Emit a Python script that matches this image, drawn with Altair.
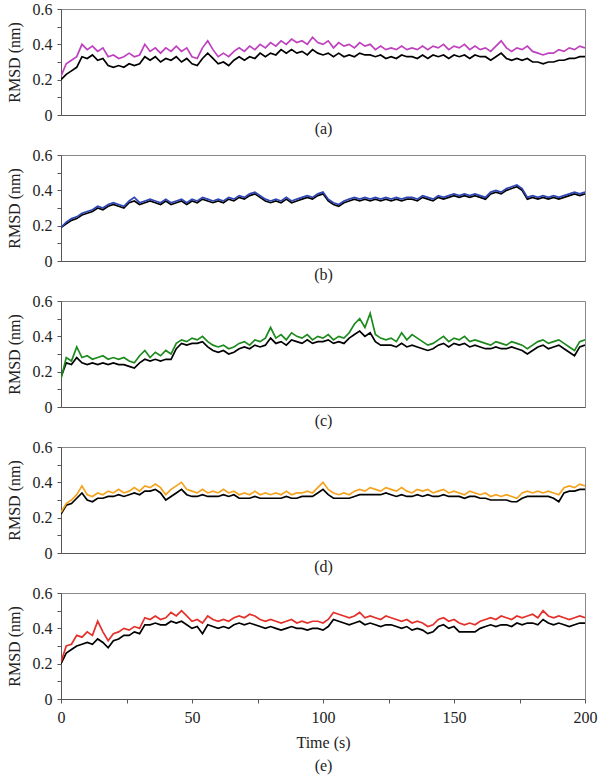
import altair as alt
import pandas as pd

# Sampling times (s), one value every 2 s
TIME = list(range(0, 201, 2))

# Panel (a)
A_REF = [0.20, 0.23, 0.25, 0.27, 0.33, 0.32, 0.34, 0.31, 0.32, 0.28,
         0.27, 0.28, 0.27, 0.29, 0.28, 0.29, 0.33, 0.31, 0.33, 0.30,
         0.32, 0.31, 0.33, 0.30, 0.32, 0.29, 0.28, 0.32, 0.35, 0.32,
         0.29, 0.30, 0.28, 0.31, 0.33, 0.31, 0.33, 0.32, 0.35, 0.33,
         0.35, 0.34, 0.37, 0.35, 0.37, 0.35, 0.36, 0.34, 0.37, 0.35,
         0.34, 0.35, 0.33, 0.35, 0.33, 0.34, 0.33, 0.35, 0.34, 0.34,
         0.33, 0.34, 0.32, 0.33, 0.32, 0.34, 0.33, 0.33, 0.32, 0.34,
         0.32, 0.34, 0.33, 0.34, 0.32, 0.34, 0.33, 0.34, 0.32, 0.34,
         0.33, 0.33, 0.31, 0.33, 0.35, 0.32, 0.31, 0.32, 0.31, 0.32,
         0.30, 0.30, 0.29, 0.30, 0.30, 0.31, 0.31, 0.32, 0.32, 0.33,
         0.33]
A_COL = [0.22, 0.29, 0.31, 0.33, 0.40, 0.37, 0.39, 0.36, 0.38, 0.33,
         0.34, 0.32, 0.33, 0.35, 0.33, 0.34, 0.40, 0.36, 0.38, 0.35,
         0.38, 0.36, 0.39, 0.36, 0.38, 0.33, 0.32, 0.38, 0.42, 0.37,
         0.33, 0.35, 0.33, 0.36, 0.38, 0.36, 0.39, 0.37, 0.40, 0.38,
         0.41, 0.39, 0.42, 0.40, 0.43, 0.41, 0.42, 0.40, 0.44, 0.41,
         0.40, 0.42, 0.38, 0.41, 0.39, 0.40, 0.38, 0.41, 0.39, 0.40,
         0.37, 0.39, 0.37, 0.38, 0.37, 0.39, 0.37, 0.38, 0.37, 0.39,
         0.37, 0.39, 0.38, 0.40, 0.37, 0.39, 0.38, 0.40, 0.37, 0.39,
         0.37, 0.38, 0.36, 0.39, 0.42, 0.38, 0.36, 0.38, 0.37, 0.39,
         0.36, 0.35, 0.34, 0.35, 0.35, 0.37, 0.36, 0.38, 0.37, 0.39,
         0.38]

# Panel (b)
B_REF = [0.19, 0.21, 0.23, 0.24, 0.26, 0.27, 0.28, 0.30, 0.29, 0.31,
         0.32, 0.31, 0.30, 0.33, 0.34, 0.32, 0.33, 0.34, 0.33, 0.32,
         0.34, 0.32, 0.33, 0.34, 0.32, 0.34, 0.33, 0.35, 0.34, 0.33,
         0.34, 0.33, 0.35, 0.34, 0.36, 0.35, 0.37, 0.38, 0.36, 0.34,
         0.33, 0.34, 0.33, 0.35, 0.33, 0.34, 0.35, 0.36, 0.35, 0.37,
         0.38, 0.34, 0.32, 0.31, 0.33, 0.34, 0.35, 0.34, 0.35, 0.34,
         0.35, 0.34, 0.35, 0.34, 0.35, 0.34, 0.35, 0.35, 0.34, 0.36,
         0.35, 0.34, 0.36, 0.35, 0.36, 0.37, 0.36, 0.37, 0.36, 0.37,
         0.36, 0.35, 0.38, 0.39, 0.38, 0.40, 0.41, 0.42, 0.40, 0.35,
         0.36, 0.35, 0.36, 0.35, 0.36, 0.35, 0.36, 0.37, 0.38, 0.37,
         0.38]
B_COL = [0.19, 0.22, 0.24, 0.25, 0.27, 0.28, 0.29, 0.31, 0.30, 0.32,
         0.33, 0.32, 0.31, 0.34, 0.36, 0.33, 0.34, 0.35, 0.34, 0.33,
         0.35, 0.33, 0.34, 0.35, 0.33, 0.35, 0.34, 0.36, 0.35, 0.34,
         0.35, 0.34, 0.36, 0.35, 0.37, 0.36, 0.38, 0.39, 0.37, 0.35,
         0.34, 0.35, 0.34, 0.36, 0.34, 0.35, 0.36, 0.37, 0.36, 0.38,
         0.39, 0.35, 0.33, 0.32, 0.34, 0.35, 0.36, 0.35, 0.36, 0.35,
         0.36, 0.35, 0.36, 0.35, 0.36, 0.35, 0.36, 0.36, 0.35, 0.37,
         0.36, 0.35, 0.37, 0.36, 0.37, 0.38, 0.37, 0.38, 0.37, 0.38,
         0.37, 0.36, 0.39, 0.40, 0.39, 0.41, 0.42, 0.43, 0.41, 0.36,
         0.37, 0.36, 0.37, 0.36, 0.37, 0.36, 0.37, 0.38, 0.39, 0.38,
         0.39]

# Panel (c)
C_REF = [0.17, 0.25, 0.24, 0.28, 0.25, 0.24, 0.25, 0.24, 0.25, 0.24,
         0.25, 0.24, 0.24, 0.23, 0.22, 0.25, 0.27, 0.26, 0.27, 0.26,
         0.27, 0.27, 0.33, 0.36, 0.35, 0.36, 0.36, 0.37, 0.34, 0.32,
         0.31, 0.32, 0.30, 0.31, 0.33, 0.34, 0.33, 0.35, 0.34, 0.35,
         0.39, 0.36, 0.37, 0.35, 0.38, 0.37, 0.36, 0.38, 0.36, 0.37,
         0.37, 0.38, 0.36, 0.37, 0.36, 0.39, 0.41, 0.43, 0.40, 0.42,
         0.37, 0.35, 0.35, 0.35, 0.34, 0.36, 0.34, 0.35, 0.34, 0.33,
         0.32, 0.33, 0.35, 0.36, 0.34, 0.36, 0.35, 0.36, 0.34, 0.35,
         0.34, 0.33, 0.33, 0.34, 0.33, 0.33, 0.34, 0.33, 0.32, 0.30,
         0.32, 0.34, 0.35, 0.33, 0.34, 0.35, 0.33, 0.31, 0.29, 0.34,
         0.35]
C_COL = [0.16, 0.28, 0.26, 0.34, 0.28, 0.29, 0.27, 0.28, 0.29, 0.27,
         0.28, 0.27, 0.28, 0.26, 0.25, 0.29, 0.32, 0.28, 0.31, 0.29,
         0.32, 0.30, 0.36, 0.38, 0.37, 0.39, 0.38, 0.40, 0.37, 0.35,
         0.34, 0.35, 0.33, 0.34, 0.36, 0.37, 0.35, 0.38, 0.37, 0.39,
         0.45, 0.39, 0.41, 0.38, 0.42, 0.40, 0.39, 0.41, 0.38, 0.40,
         0.39, 0.41, 0.38, 0.40, 0.39, 0.42, 0.47, 0.50, 0.45, 0.53,
         0.41, 0.39, 0.38, 0.39, 0.37, 0.42, 0.38, 0.41, 0.39, 0.37,
         0.35, 0.36, 0.38, 0.40, 0.37, 0.39, 0.38, 0.40, 0.37, 0.38,
         0.37, 0.36, 0.35, 0.37, 0.36, 0.35, 0.37, 0.36, 0.35, 0.33,
         0.35, 0.37, 0.38, 0.36, 0.37, 0.38, 0.36, 0.34, 0.32, 0.37,
         0.38]

# Panel (d)
D_REF = [0.22, 0.27, 0.28, 0.31, 0.34, 0.30, 0.29, 0.31, 0.31, 0.32,
         0.32, 0.33, 0.32, 0.33, 0.34, 0.33, 0.35, 0.35, 0.36, 0.34,
         0.30, 0.32, 0.34, 0.36, 0.33, 0.32, 0.32, 0.33, 0.32, 0.32,
         0.32, 0.33, 0.32, 0.33, 0.31, 0.31, 0.31, 0.32, 0.31, 0.31,
         0.31, 0.31, 0.31, 0.32, 0.31, 0.31, 0.32, 0.32, 0.32, 0.34,
         0.36, 0.33, 0.31, 0.31, 0.31, 0.31, 0.32, 0.33, 0.33, 0.33,
         0.33, 0.33, 0.34, 0.33, 0.32, 0.33, 0.32, 0.32, 0.33, 0.32,
         0.33, 0.32, 0.32, 0.33, 0.32, 0.32, 0.32, 0.31, 0.32, 0.32,
         0.31, 0.31, 0.30, 0.30, 0.30, 0.30, 0.29, 0.29, 0.31, 0.32,
         0.32, 0.32, 0.32, 0.32, 0.31, 0.29, 0.34, 0.35, 0.35, 0.36,
         0.36]
D_COL = [0.23, 0.28, 0.30, 0.33, 0.38, 0.33, 0.32, 0.34, 0.33, 0.35,
         0.34, 0.36, 0.34, 0.35, 0.37, 0.35, 0.38, 0.37, 0.39, 0.37,
         0.33, 0.36, 0.38, 0.40, 0.36, 0.35, 0.34, 0.36, 0.34, 0.35,
         0.34, 0.36, 0.34, 0.35, 0.33, 0.34, 0.33, 0.35, 0.33, 0.34,
         0.33, 0.34, 0.33, 0.35, 0.33, 0.34, 0.34, 0.35, 0.34, 0.37,
         0.40, 0.36, 0.34, 0.33, 0.34, 0.33, 0.35, 0.36, 0.35, 0.37,
         0.36, 0.35, 0.37, 0.36, 0.35, 0.37, 0.35, 0.34, 0.36, 0.35,
         0.36, 0.34, 0.35, 0.36, 0.34, 0.35, 0.34, 0.33, 0.35, 0.34,
         0.33, 0.34, 0.32, 0.33, 0.32, 0.33, 0.32, 0.31, 0.34, 0.35,
         0.34, 0.35, 0.34, 0.35, 0.34, 0.33, 0.37, 0.38, 0.37, 0.39,
         0.38]

# Panel (e)
E_REF = [0.20, 0.26, 0.28, 0.30, 0.31, 0.32, 0.31, 0.34, 0.32, 0.29,
         0.33, 0.34, 0.36, 0.36, 0.38, 0.37, 0.42, 0.42, 0.43, 0.42,
         0.42, 0.44, 0.43, 0.44, 0.42, 0.40, 0.41, 0.37, 0.42, 0.41,
         0.40, 0.41, 0.40, 0.42, 0.43, 0.42, 0.43, 0.42, 0.41, 0.40,
         0.41, 0.40, 0.39, 0.40, 0.41, 0.40, 0.40, 0.39, 0.40, 0.40,
         0.39, 0.41, 0.45, 0.44, 0.43, 0.42, 0.43, 0.44, 0.42, 0.43,
         0.42, 0.41, 0.42, 0.42, 0.41, 0.40, 0.41, 0.39, 0.40, 0.39,
         0.37, 0.38, 0.41, 0.42, 0.40, 0.41, 0.38, 0.38, 0.38, 0.38,
         0.40, 0.41, 0.42, 0.41, 0.42, 0.42, 0.41, 0.43, 0.42, 0.43,
         0.43, 0.42, 0.45, 0.43, 0.42, 0.43, 0.42, 0.41, 0.42, 0.43,
         0.43]
E_COL = [0.21, 0.30, 0.31, 0.36, 0.35, 0.38, 0.36, 0.44, 0.38, 0.33,
         0.37, 0.38, 0.40, 0.39, 0.41, 0.40, 0.46, 0.45, 0.47, 0.45,
         0.46, 0.49, 0.47, 0.50, 0.47, 0.44, 0.45, 0.43, 0.47, 0.45,
         0.44, 0.45, 0.44, 0.46, 0.47, 0.46, 0.48, 0.47, 0.45, 0.44,
         0.45, 0.44, 0.43, 0.44, 0.45, 0.43, 0.44, 0.43, 0.44, 0.44,
         0.43, 0.45, 0.49, 0.48, 0.47, 0.46, 0.47, 0.49, 0.46, 0.47,
         0.46, 0.45, 0.47, 0.46, 0.45, 0.44, 0.45, 0.43, 0.44, 0.43,
         0.41, 0.42, 0.45, 0.46, 0.44, 0.45, 0.43, 0.42, 0.43, 0.42,
         0.44, 0.45, 0.46, 0.45, 0.47, 0.46, 0.45, 0.47, 0.46, 0.47,
         0.48, 0.46, 0.50, 0.47, 0.46, 0.47, 0.46, 0.45, 0.46, 0.47,
         0.46]

PANELS = [
    ("(a)", A_REF, A_COL, "#bf40bf"),
    ("(b)", B_REF, B_COL, "#2e46b4"),
    ("(c)", C_REF, C_COL, "#1c8a1c"),
    ("(d)", D_REF, D_COL, "#f5a31e"),
    ("(e)", E_REF, E_COL, "#e4302a"),
]

FONT = "Liberation Serif"
FS = 16
W, H = 524, 106

TEXT_STYLE = dict(
    labelFont=FONT, labelFontSize=FS, labelColor="#222",
    titleFont=FONT, titleFontSize=FS, titleFontWeight="normal",
    titleColor="#222", domainColor="#555", tickColor="#555", grid=False,
)

y_scale = alt.Scale(domain=[0, 0.6], nice=False)
x_scale = alt.Scale(domain=[0, 200], nice=False)

y_axis = alt.Axis(
    title="RMSD (nm)",
    values=[0, 0.1, 0.2, 0.3, 0.4, 0.5, 0.6],
    labelExpr="datum.value == 0 ? '0' : (round(datum.value * 10) % 2 == 0 ? format(datum.value, '.1f') : '')",
    tickSize=4, labelPadding=5, titlePadding=10, labelFlush=False,
    **TEXT_STYLE,
)


def panel(caption, ref, col, color, last):
    df = pd.DataFrame({"t": TIME, "ref": ref, "col": col})
    if last:
        x_axis = alt.Axis(
            title=["Time (s)", caption], values=list(range(0, 201, 25)),
            labelExpr="datum.value % 50 == 0 ? datum.value : ''",
            tickSize=4, labelPadding=6, titlePadding=9, labelFlush=False,
            titleLineHeight=23, **TEXT_STYLE,
        )
    else:
        x_axis = alt.Axis(
            title=caption, labels=False, ticks=False,
            titlePadding=5, **TEXT_STYLE,
        )
    base = alt.Chart(df).encode(
        x=alt.X("t:Q", scale=x_scale, axis=x_axis),
    )
    black = base.mark_line(color="black", strokeWidth=1.7, clip=True).encode(
        y=alt.Y("ref:Q", scale=y_scale, axis=y_axis)
    )
    colored = base.mark_line(color=color, strokeWidth=1.7, clip=True).encode(
        y=alt.Y("col:Q", scale=y_scale, axis=y_axis)
    )
    return (black + colored).properties(width=W, height=H)


charts = [panel(c, r, k, col, i == len(PANELS) - 1)
          for i, (c, r, k, col) in enumerate(PANELS)]

chart = alt.vconcat(
    *charts, spacing=9,
    padding={"left": 5, "top": 0, "right": 1, "bottom": 2},
).configure_view(stroke="#888", strokeWidth=1)

chart.save("out.html", embed_options={"renderer": "svg", "actions": False})
